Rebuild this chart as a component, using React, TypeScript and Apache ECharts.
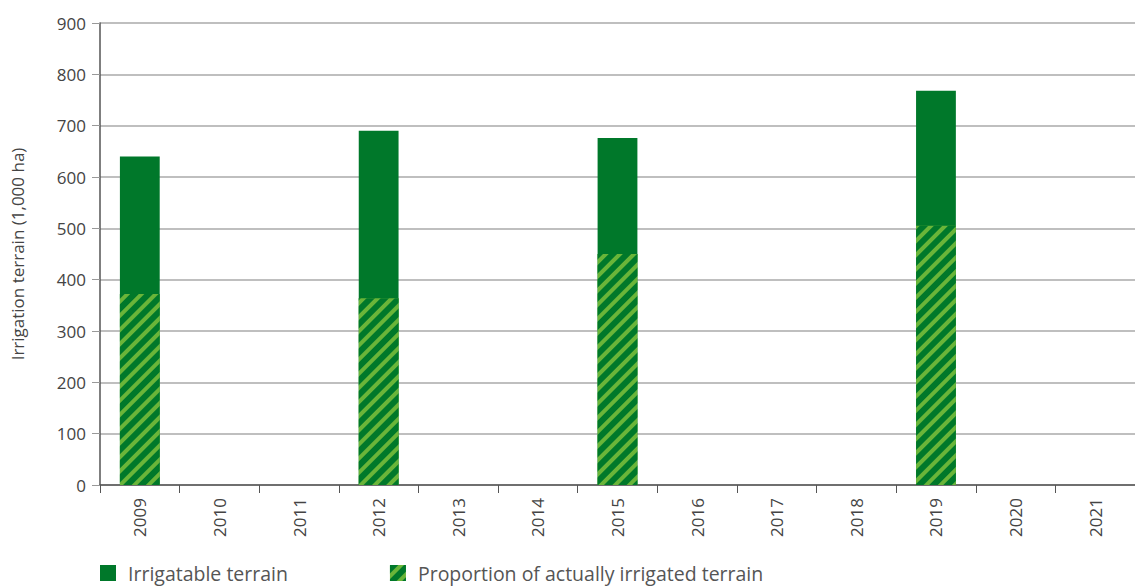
import React, { useEffect, useRef } from "react";
import * as echarts from "echarts";

const years = ["2009", "2010", "2011", "2012", "2013", "2014", "2015", "2016", "2017", "2018", "2019", "2020", "2021"];
const irrigatable = [640, null, null, 690, null, null, 676, null, null, null, 768, null, null];
const irrigated = [372, null, null, 364, null, null, 450, null, null, null, 505, null, null];

const DARK = "#00782a";
const LIGHT = "#6ab539";
const FONT = "'Open Sans', 'Noto Sans', sans-serif";

export default function App() {
  const ref = useRef<HTMLDivElement>(null);
  useEffect(() => {
    const chart = echarts.init(ref.current!, null, { renderer: "svg" });
    chart.setOption({
      animation: false,
      textStyle: { fontFamily: FONT },
      grid: { left: 100, right: 0, top: 23, bottom: 103, containLabel: false, outerBoundsMode: "none" },
      legend: {
        left: 95,
        bottom: 0,
        itemWidth: 16,
        itemHeight: 16,
        itemGap: 102,
        icon: "rect",
        textStyle: { fontSize: 19.5, color: "#555", fontFamily: FONT, padding: [0, 0, 0, 7] },
        data: ["Irrigatable terrain", "Proportion of actually irrigated terrain"],
      },
      xAxis: {
        type: "category",
        data: years,
        axisLine: { lineStyle: { color: "#555", width: 1.5 } },
        axisTick: { show: true, length: 8, lineStyle: { color: "#555" } },
        axisLabel: { rotate: 90, fontSize: 17, color: "#444", margin: 13 },
      },
      yAxis: {
        type: "value",
        min: 0,
        max: 900,
        interval: 100,
        name: "Irrigation terrain (1,000 ha)",
        nameLocation: "middle",
        nameGap: 74,
        nameTextStyle: { fontSize: 17, color: "#444" },
        axisLine: { show: true, lineStyle: { color: "#555", width: 1.5 } },
        axisTick: { show: true, length: 8, lineStyle: { color: "#999" } },
        axisLabel: { fontSize: 17, color: "#444", margin: 14 },
        splitLine: { lineStyle: { color: "#aaa", width: 1.5 } },
      },
      series: [
        {
          name: "Irrigatable terrain",
          type: "bar",
          data: irrigatable,
          barWidth: "50%",
          barGap: "-100%",
          itemStyle: { color: DARK },
        },
        {
          name: "Proportion of actually irrigated terrain",
          type: "bar",
          data: irrigated,
          barWidth: "50%",
          barGap: "-100%",
          itemStyle: {
            color: LIGHT,
            decal: {
              symbol: "rect",
              symbolSize: 1,
              color: DARK,
              dashArrayX: [1, 0],
              dashArrayY: [6, 4],
              rotation: -Math.PI / 4,
            },
          },
        },
      ],
    });
    return () => chart.dispose();
  }, []);
  return <div ref={ref} style={{ width: 1135, height: 588, position: "absolute", left: 0, top: 0 }} />;
}
